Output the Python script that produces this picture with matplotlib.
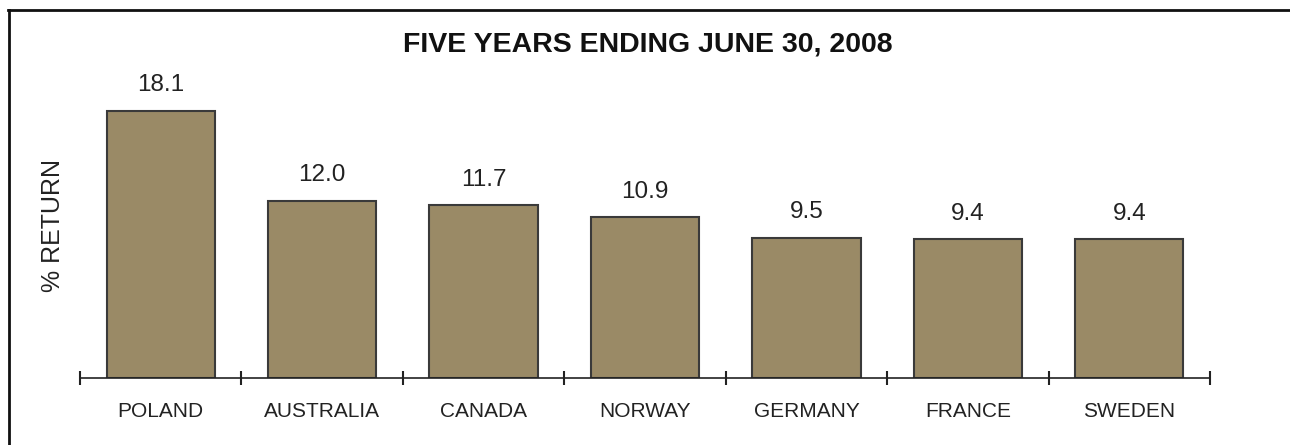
import matplotlib
matplotlib.use("Agg")
import matplotlib.pyplot as plt
from matplotlib.lines import Line2D

categories = ["POLAND", "AUSTRALIA", "CANADA", "NORWAY", "GERMANY", "FRANCE", "SWEDEN"]
values = [18.1, 12.0, 11.7, 10.9, 9.5, 9.4, 9.4]
title = "FIVE YEARS ENDING JUNE 30, 2008"
ylabel = "% RETURN"

plt.rcParams['font.family'] = ['Liberation Sans', 'DejaVu Sans']

W, H = 1290, 445
fig = plt.figure(figsize=(W / 100, H / 100), dpi=100)
ax = fig.add_axes([80 / W, 1 - 378 / H, (1210 - 80) / W, (378 - 83) / H])

x = list(range(len(categories)))
bars = ax.bar(x, values, width=0.67, color="#9A8A66", edgecolor="#3a3a3a", linewidth=1.5, zorder=2)
for xi, v in zip(x, values):
    ax.annotate(f"{v:.1f}", (xi, v), xytext=(0, 10.5), textcoords="offset points",
                ha="center", va="bottom", fontsize=17.5, color="#222222")

ax.set_xlim(-0.5, len(categories) - 0.5)
ax.set_ylim(0, 20)
for s in ["top", "right", "left"]:
    ax.spines[s].set_visible(False)
ax.spines["bottom"].set_color("#222222")
ax.spines["bottom"].set_linewidth(1.2)
ax.set_yticks([])
ax.set_xticks(x)
ax.set_xticklabels(categories, fontsize=15, color="#222222")
ax.tick_params(axis="x", which="major", length=0, pad=17)
ax.set_xticks([i - 0.5 for i in range(len(categories) + 1)], minor=True)
ax.tick_params(axis="x", which="minor", length=10, width=1.5, direction="inout", color="#222222")

fig.text(648 / W, 1 - 44 / H, title, ha="center", va="center", fontsize=20.5, fontweight="bold", color="#111111")
fig.text(53 / W, 1 - 225 / H, ylabel, ha="center", va="center", rotation=90, fontsize=18, color="#222222")

fig.add_artist(Line2D([8.5 / W, 8.5 / W], [0, 1 - 10 / H], transform=fig.transFigure, color="#111111", linewidth=2))
fig.add_artist(Line2D([8 / W, 1], [1 - 10 / H, 1 - 10 / H], transform=fig.transFigure, color="#111111", linewidth=2))

fig.savefig("out.png", dpi=100)
